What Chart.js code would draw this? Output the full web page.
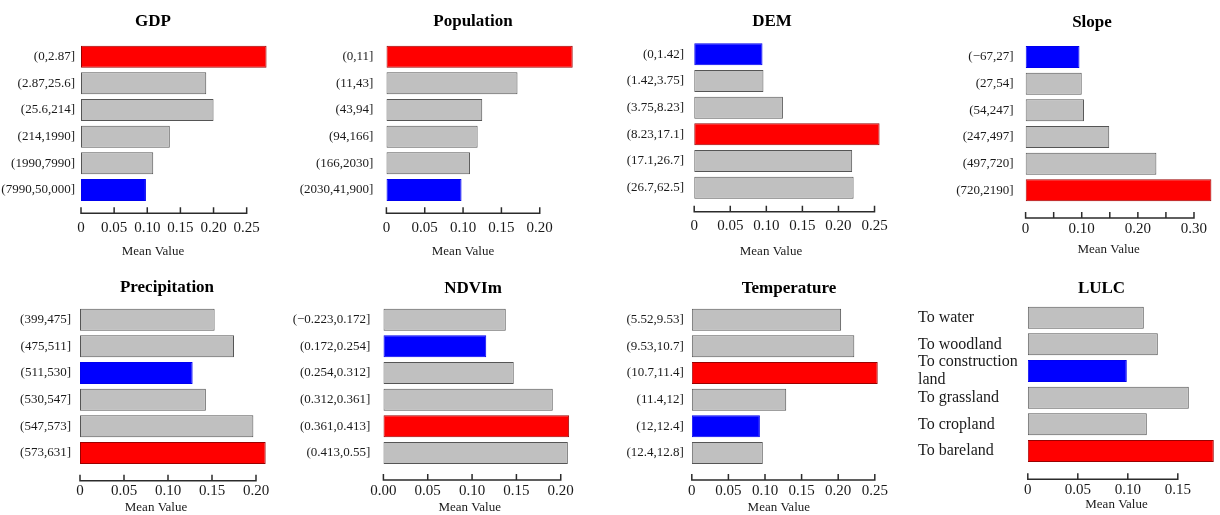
<!DOCTYPE html>
<html>
<head>
<meta charset="utf-8">
<title>Mean value by class</title>
<script src="https://cdn.jsdelivr.net/npm/chart.js@4.4.1/dist/chart.umd.min.js"></script>
<style>
  html, body { margin: 0; padding: 0; background: #fff; overflow: hidden; }
  #board { position: relative; width: 1220px; height: 515px; overflow: hidden; }
  #board canvas { position: absolute; }
</style>
</head>
<body>
<div id="board"></div>
<script>
// Class intervals and mean values
var gdpBins = ['(0,2.87]', '(2.87,25.6]', '(25.6,214]', '(214,1990]', '(1990,7990]', '(7990,50,000]'];
var gdpMean = [0.280, 0.189, 0.200, 0.134, 0.109, 0.098];
var gdpTicks = ['0', '0.05', '0.10', '0.15', '0.20', '0.25'];

var popBins = ['(0,11]', '(11,43]', '(43,94]', '(94,166]', '(166,2030]', '(2030,41,900]'];
var popMean = [0.243, 0.171, 0.125, 0.119, 0.109, 0.098];
var popTicks = ['0', '0.05', '0.10', '0.15', '0.20'];

var demBins = ['(0,1.42]', '(1.42,3.75]', '(3.75,8.23]', '(8.23,17.1]', '(17.1,26.7]', '(26.7,62.5]'];
var demMean = [0.0947, 0.096, 0.123, 0.257, 0.219, 0.221];
var demTicks = ['0', '0.05', '0.10', '0.15', '0.20', '0.25'];

var slopeBins = ['(\u221267,27]', '(27,54]', '(54,247]', '(247,497]', '(497,720]', '(720,2190]'];
var slopeMean = [0.096, 0.100, 0.104, 0.149, 0.233, 0.331];
var slopeTicks = ['0', '', '0.10', '', '0.20', '', '0.30'];

var precBins = ['(399,475]', '(475,511]', '(511,530]', '(530,547]', '(547,573]', '(573,631]'];
var precMean = [0.153, 0.175, 0.128, 0.143, 0.197, 0.211];
var precTicks = ['0', '0.05', '0.10', '0.15', '0.20'];

var ndviBins = ['(\u22120.223,0.172]', '(0.172,0.254]', '(0.254,0.312]', '(0.312,0.361]', '(0.361,0.413]', '(0.413,0.55]'];
var ndviMean = [0.138, 0.116, 0.147, 0.191, 0.2095, 0.208];
var ndviTicks = ['0.00', '0.05', '0.10', '0.15', '0.20'];

var tempBins = ['(5.52,9.53]', '(9.53,10.7]', '(10.7,11.4]', '(11.4,12]', '(12,12.4]', '(12.4,12.8]'];
var tempMean = [0.204, 0.222, 0.254, 0.129, 0.093, 0.097];
var tempTicks = ['0', '0.05', '0.10', '0.15', '0.20', '0.25'];

var lulcTypes = ['To water', 'To woodland', ['To construction', 'land'], 'To grassland', 'To cropland', 'To bareland'];
var lulcMean = [0.116, 0.130, 0.099, 0.161, 0.119, 0.186];
var lulcTicks = ['0', '0.05', '0.10', '0.15'];

var TICK_STEP = 0.05;
var SERIF = '"Liberation Serif", "Times New Roman", serif';

// Panel placement (page pixels)
var panels = [
    { title: 'GDP', cats: gdpBins, vals: gdpMean, ticks: gdpTicks,
      cx: 153, W: 330, T: 0, H: 260, zeroX: 81, unit: 662.7, titleY: 21.7, band: 43.3,
      labelPad: 6, axisGap: 10, capX: 153, capY: 252 },
    { title: 'Population', cats: popBins, vals: popMean, ticks: popTicks,
      cx: 473.3, W: 370, T: 0, H: 260, zeroX: 386.7, unit: 766.7, titleY: 21.7, band: 43.3,
      labelPad: 13, axisGap: 10, capX: 463.3, capY: 252 },
    { title: 'DEM', cats: demBins, vals: demMean, ticks: demTicks,
      cx: 771.5, W: 310, T: 0, H: 260, zeroX: 693.7, unit: 721.3, titleY: 21.7, band: 41,
      labelPad: 10, axisGap: 10.7, capX: 770.5, capY: 252 },
    { title: 'Slope', cats: slopeBins, vals: slopeMean, ticks: slopeTicks,
      cx: 1091.7, W: 280, T: 0, H: 260, zeroX: 1025.3, unit: 561.3, titleY: 22.7, band: 43.7,
      labelPad: 12, axisGap: 14.3, capX: 1108.3, capY: 250 },
    { title: 'Precipitation', cats: precBins, vals: precMean, ticks: precTicks,
      cx: 167.3, W: 320, T: 260, H: 255, zeroX: 80.3, unit: 880, titleY: 287.3, band: 306.3,
      labelPad: 9, axisGap: 14.4, capX: 156.3, capY: 508 },
    { title: 'NDVIm', cats: ndviBins, vals: ndviMean, ticks: ndviTicks,
      cx: 473.3, W: 380, T: 260, H: 255, zeroX: 383.7, unit: 886.7, titleY: 289, band: 306.3,
      labelPad: 13, axisGap: 13.7, capX: 470, capY: 508 },
    { title: 'Temperature', cats: tempBins, vals: tempMean, ticks: tempTicks,
      cx: 788.5, W: 340, T: 260, H: 255, zeroX: 691.3, unit: 732, titleY: 288.3, band: 306.3,
      labelPad: 8, axisGap: 13.7, capX: 778.3, capY: 508 },
    { title: 'LULC', cats: lulcTypes, vals: lulcMean, ticks: lulcTicks,
      cx: 1101.7, W: 367, T: 260, H: 255, zeroX: 1028, unit: 1000, titleY: 288.3, band: 304.3,
      labelPad: 0, axisGap: 15, capX: 1116.7, capY: 505, leftLabels: true }
];

// Axis line with upward tick marks, plus the "Mean Value" caption
var axisDeco = {
    id: 'axisDeco',
    afterDraw: function(chart, args, opts) {
        var ctx = chart.ctx;
        var xs = chart.scales.x;
        var y = chart.chartArea.bottom + opts.gap;
        var first = xs.ticks[0].value;
        var last = xs.ticks[xs.ticks.length - 1].value;
        ctx.save();
        ctx.strokeStyle = '#2b2b2b';
        ctx.lineWidth = 1.5;
        ctx.beginPath();
        ctx.moveTo(xs.getPixelForValue(first), y);
        ctx.lineTo(xs.getPixelForValue(last), y);
        xs.ticks.forEach(function(t) {
            var x = xs.getPixelForValue(t.value);
            ctx.moveTo(x, y + 0.75);
            ctx.lineTo(x, y - 6);
        });
        ctx.stroke();
        ctx.font = '13px ' + SERIF;
        ctx.fillStyle = '#1a1a1a';
        ctx.textAlign = 'center';
        ctx.textBaseline = 'middle';
        ctx.fillText(opts.caption, opts.x, opts.y);
        ctx.restore();
    }
};

function barColours(vals) {
    var hi = Math.max.apply(null, vals), lo = Math.min.apply(null, vals);
    return {
        fill: vals.map(function(v) { return v === hi ? '#ff0000' : (v === lo ? '#0000ff' : '#c0c0c0'); }),
        line: vals.map(function(v) { return v === hi ? '#9a0000' : (v === lo ? '#0000ee' : '#555555'); })
    };
}

function makePanel(p) {
    var L = p.cx - p.W / 2;
    var canvas = document.createElement('canvas');
    canvas.width = p.W;
    canvas.height = p.H;
    canvas.style.left = L + 'px';
    canvas.style.top = p.T + 'px';
    canvas.style.width = p.W + 'px';
    canvas.style.height = p.H + 'px';
    document.getElementById('board').appendChild(canvas);

    var yw = p.zeroX - L;
    var bandTop = p.band - p.T;
    var xh = p.H - (bandTop + 160);
    var titleTop = p.titleY - p.T - 10.2;
    var col = barColours(p.vals);
    var tickVals = p.ticks.map(function(t, i) { return i * TICK_STEP; });

    return new Chart(canvas.getContext('2d'), {
        type: 'bar',
        data: {
            labels: p.cats,
            datasets: [{
                data: p.vals,
                backgroundColor: col.fill,
                borderColor: col.line,
                borderWidth: 1,
                borderSkipped: false,
                barPercentage: 0.825,
                categoryPercentage: 1
            }]
        },
        options: {
            indexAxis: 'y',
            responsive: false,
            animation: false,
            devicePixelRatio: 1,
            layout: { padding: 0 },
            scales: {
                x: {
                    min: 0,
                    max: (p.W - yw) / p.unit,
                    bounds: 'data',
                    grid: { display: false, drawTicks: false },
                    border: { display: false },
                    afterBuildTicks: function(s) {
                        s.ticks = tickVals.map(function(v) { return { value: v }; });
                    },
                    afterFit: function(s) { s.height = xh; },
                    ticks: {
                        autoSkip: false,
                        maxRotation: 0,
                        minRotation: 0,
                        padding: p.leftLabels ? 17 : 16,
                        color: '#1a1a1a',
                        font: { family: SERIF, size: 15 },
                        callback: function(v, i) { return p.ticks[i]; }
                    }
                },
                y: {
                    grid: { display: false, drawTicks: false },
                    border: { display: false },
                    afterFit: function(s) { s.width = yw; },
                    ticks: {
                        autoSkip: false,
                        padding: p.labelPad,
                        crossAlign: p.leftLabels ? 'far' : 'near',
                        color: '#1a1a1a',
                        font: p.leftLabels ? { family: SERIF, size: 16, lineHeight: 1.1 } : { family: SERIF, size: 13 }
                    }
                }
            },
            plugins: {
                legend: { display: false },
                tooltip: { enabled: false },
                title: {
                    display: true,
                    text: p.title,
                    color: '#000',
                    font: { family: SERIF, size: 17, weight: 'bold', lineHeight: 1.2 },
                    padding: { top: titleTop, bottom: bandTop - titleTop - 20.4 }
                },
                axisDeco: { caption: 'Mean Value', gap: p.axisGap, x: p.capX - L, y: p.capY - p.T }
            }
        },
        plugins: [axisDeco]
    });
}

panels.forEach(makePanel);
</script>
</body>
</html>
